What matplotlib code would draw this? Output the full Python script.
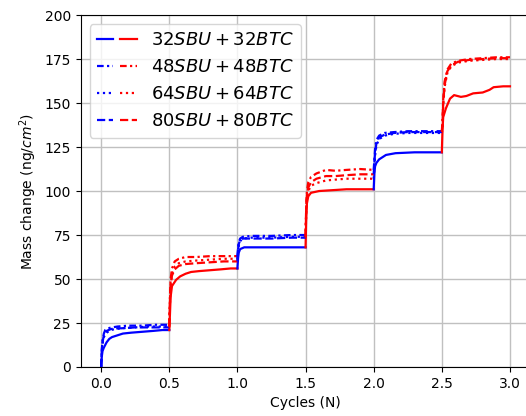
import numpy as np
import matplotlib
matplotlib.use("Agg")
import matplotlib.pyplot as plt
from matplotlib.lines import Line2D
from matplotlib.legend_handler import HandlerTuple

# --- data ---
x_32 = [0, 0.005, 0.01, 0.02, 0.04, 0.06, 0.08, 0.12, 0.16, 0.22, 0.3, 0.38, 0.45, 0.5,
        0.505, 0.51, 0.52, 0.55, 0.58, 0.62, 0.66, 0.72, 0.8, 0.88, 0.95, 1.0,
        1.005, 1.01, 1.02, 1.05, 1.2, 1.35, 1.5,
        1.505, 1.51, 1.52, 1.54, 1.6, 1.7, 1.8, 1.9, 2.0,
        2.005, 2.01, 2.02, 2.04, 2.09, 2.16, 2.3, 2.42, 2.5,
        2.505, 2.51, 2.53, 2.56, 2.59, 2.64, 2.68, 2.73, 2.8, 2.85, 2.88, 2.95, 3.0]
y_32 = [0, 6, 9, 11, 14, 16, 17, 18, 19, 19.5, 20, 20.5, 21, 21,
        30, 40, 46, 49.5, 51.5, 53, 54, 54.5, 55, 55.5, 56, 56,
        62, 65, 67, 68, 68, 68, 68,
        85, 93, 97, 99, 100, 100.5, 101, 101, 101,
        110, 114, 116, 118, 120.5, 121.5, 122, 122, 122,
        135, 142, 147, 152.5, 154.5, 153.5, 154, 155.5, 156, 157.5, 159, 159.5, 159.5]

x_48 = [0, 0.005, 0.01, 0.02, 0.03, 0.05, 0.08, 0.12, 0.2, 0.3, 0.4, 0.5,
        0.505, 0.51, 0.52, 0.54, 0.57, 0.62, 0.7, 0.8, 0.9, 1.0,
        1.005, 1.01, 1.02, 1.04, 1.1, 1.25, 1.4, 1.5,
        1.505, 1.51, 1.52, 1.54, 1.58, 1.65, 1.72, 1.8, 1.9, 2.0,
        2.005, 2.01, 2.02, 2.04, 2.08, 2.15, 2.25, 2.35, 2.45, 2.5,
        2.505, 2.51, 2.52, 2.54, 2.57, 2.62, 2.7, 2.8, 2.9, 3.0]
y_48 = [0, 10, 15, 19, 21, 22, 22.5, 23, 23.5, 23.5, 24, 24,
        40, 50, 56, 60, 61.5, 62.5, 62.5, 63, 63, 63,
        68, 71, 73, 74, 74.5, 74.5, 75, 75,
        92, 100, 105, 108, 110, 112, 111.5, 112, 112.5, 112,
        118, 124, 129, 131.5, 133, 133.5, 134, 134, 134, 134,
        140, 152, 162, 169, 172.5, 174, 175, 175.5, 176, 176]

x_64 = [0, 0.005, 0.01, 0.02, 0.04, 0.07, 0.1, 0.15, 0.25, 0.35, 0.45, 0.5,
        0.505, 0.51, 0.52, 0.54, 0.57, 0.62, 0.7, 0.8, 0.9, 1.0,
        1.005, 1.01, 1.02, 1.04, 1.1, 1.25, 1.4, 1.5,
        1.505, 1.51, 1.52, 1.54, 1.58, 1.65, 1.72, 1.8, 1.9, 2.0,
        2.005, 2.01, 2.02, 2.04, 2.08, 2.15, 2.25, 2.35, 2.45, 2.5,
        2.505, 2.51, 2.52, 2.54, 2.57, 2.62, 2.7, 2.8, 2.9, 3.0]
y_64 = [0, 8, 13, 17, 19.5, 21, 21.5, 22, 22.5, 23, 23, 23,
        36, 46, 53, 57, 59, 60, 60.5, 61, 61.5, 61.5,
        66, 69, 71.5, 73, 73.5, 73.5, 74, 74,
        88, 96, 100, 103, 104.5, 106, 106.5, 107, 107, 107,
        114, 120, 126, 129.5, 131.5, 132.5, 133, 133, 133, 133,
        136, 148, 159, 167, 171, 173, 174, 174.5, 175, 175]

x_80 = list(x_64)
y_80 = [0, 9, 14, 18, 20.5, 21.5, 22, 22, 22.5, 22.5, 22.5, 22.5,
        37, 47, 52, 55.5, 57.5, 58.5, 59, 59.5, 60, 60,
        67, 70, 72, 73, 73, 73, 73.5, 73.5,
        90, 98, 102, 105, 107, 108.5, 108.5, 109, 109.5, 109.5,
        116, 122, 127, 130.5, 132, 133, 133.5, 133.5, 133.5, 133.5,
        138, 150, 160, 168, 171.5, 173.5, 174.5, 175, 175.5, 175.5]

labels = [r"$32SBU + 32BTC$", r"$48SBU + 48BTC$", r"$64SBU + 64BTC$", r"$80SBU + 80BTC$"]
styles = ["-", (0, (3, 1.5, 1, 1.5)), ":", "--"]
seg_colors = ["blue", "red", "blue", "red", "blue", "red"]

series = [(x_32, y_32), (x_48, y_48), (x_64, y_64), (x_80, y_80)]

fig = plt.figure(figsize=(5.26, 4.16), dpi=100)
# axes run a bit past the right edge, like the cropped original
ax = fig.add_axes([0.1534, 0.1178, 0.855, 0.846])

for (xs, ys), ls in zip(series, styles):
    xs = np.array(xs)
    ys = np.array(ys)
    for i, c in enumerate(seg_colors):
        # each half cycle is one colour, starting from the end of the last one
        m = (xs >= 0.5 * i - 1e-9) & (xs <= 0.5 * (i + 1) + 1e-9)
        ax.plot(xs[m], ys[m], color=c, linestyle=ls, linewidth=1.6)

ax.set_xlim(-0.15, 3.15)
ax.set_ylim(0, 200)
ax.set_xticks(np.arange(0, 3.01, 0.5))
ax.set_yticks(np.arange(0, 201, 25))
ax.grid(True, color="#c0c0c0", linewidth=1.0)
ax.set_axisbelow(True)
ax.set_xlabel("Cycles (N)")
ax.set_ylabel(r"Mass change (ng/$cm^2$)")

handles = []
for ls in styles:
    handles.append((Line2D([], [], color="blue", linestyle=ls, linewidth=1.6),
                    Line2D([], [], color="red", linestyle=ls, linewidth=1.6)))
ax.legend(handles, labels, handler_map={tuple: HandlerTuple(ndivide=None, pad=0.4)},
          loc="upper left", fontsize=13, handlelength=2.2)

fig.savefig("out.png", dpi=100)
